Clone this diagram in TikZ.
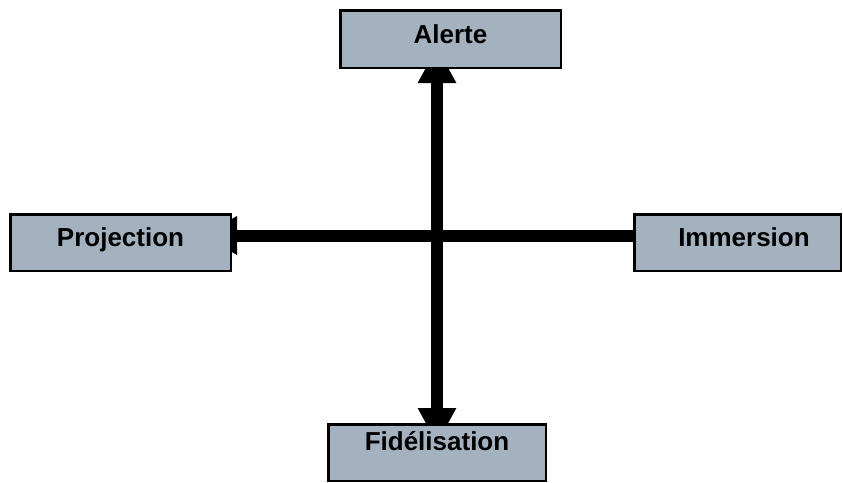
\documentclass[tikz,border=0pt]{standalone}
\usepackage{fontspec}
\setmainfont{Liberation Sans}
\usetikzlibrary{arrows.meta,backgrounds}
\definecolor{boxfill}{RGB}{164,177,191}
\tikzset{
  box/.style={draw=black, line width=2.5pt, fill=boxfill, rectangle, inner sep=0pt,
    font=\fontsize{26pt}{30pt}\selectfont\bfseries, text height=18.6pt, text depth=0pt},
  conn/.style={line width=12pt, draw=black},
  bigtip/.tip={Triangle[width=36pt,length=36pt]}
}
\begin{document}
\begin{tikzpicture}[x=1pt,y=-1pt]
\useasboundingbox (0,0) rectangle (843,482);
\node[box, minimum width=220.5pt, minimum height=57.5pt] (alerte) at (450.5,39) {\raisebox{5pt}{Alerte}};
\node[box, minimum width=220.5pt, minimum height=56.5pt] (proj) at (120.5,242.5) {\raisebox{5pt}{Projection}};
\node[box, minimum width=206.5pt, minimum height=56.5pt] (imm) at (737.5,242.5) {\hspace*{13pt}\raisebox{5pt}{Immersion}};
\node[box, minimum width=217.5pt, minimum height=56.5pt] (fid) at (437,452.5) {\raisebox{11pt}{Fidélisation}};
\coordinate (hy) at (0,235.5);
\begin{pgfonlayer}{background}
\draw[conn, {bigtip}-{bigtip}, shorten <=-22pt, shorten >=-21pt] (fid.north |- alerte.south) -- (fid.north);
\draw[conn, -{bigtip}, shorten >=-31pt] (imm.west |- hy) -- (proj.east |- hy);
\end{pgfonlayer}
\end{tikzpicture}
\end{document}
